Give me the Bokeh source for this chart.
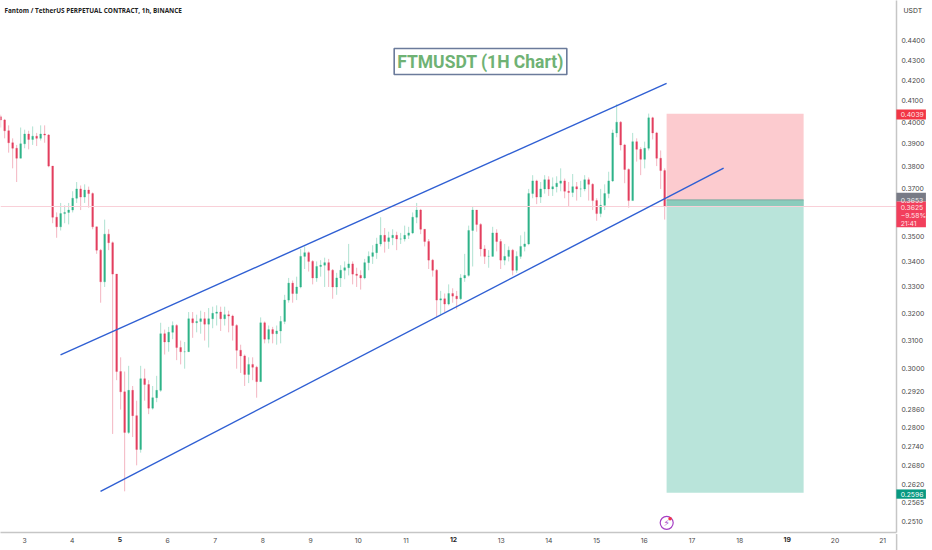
from bokeh.plotting import figure
from bokeh.layouts import column
from bokeh.models import Range1d, FixedTicker, NumeralTickFormatter, Label, ColumnDataSource
from bokeh.core.properties import value
from bokeh.embed import file_html
from bokeh.resources import INLINE

first_day = 2.5
candle_step_days = 0.0839

closes = [.4010,.3960,.3905,.3880,.3835,.3900,.3945,.3920,.3935,.3925,.3945,.3940,.3800,.3580,.3540,.3595,.3600,.3610,.3660,.3700,
.3665,.3695,.3680,.3540,.3445,.3320,.3510,.3475,.3350,.2990,.2920,.2785,.2925,.2840,.2730,.2965,.2945,.2865,.2900,.2925,
.3125,.3095,.3130,.3155,.3075,.3060,.3060,.3180,.3165,.3170,.3180,.3160,.3180,.3200,.3205,.3180,.3195,.3190,.3155,.3065,
.3045,.2980,.3015,.3005,.2955,.3165,.3105,.3140,.3125,.3135,.3170,.3250,.3315,.3275,.3300,.3420,.3435,.3400,.3335,.3380,
.3385,.3395,.3365,.3300,.3335,.3365,.3375,.3390,.3350,.3345,.3335,.3395,.3420,.3435,.3470,.3505,.3480,.3495,.3505,.3490,
.3490,.3505,.3515,.3580,.3610,.3530,.3480,.3405,.3365,.3250,.3255,.3235,.3275,.3265,.3255,.3335,.3345,.3525,.3610,.3550,
.3450,.3420,.3420,.3515,.3480,.3405,.3420,.3445,.3365,.3420,.3460,.3470,.3680,.3735,.3665,.3700,.3740,.3700,.3710,.3725,
.3735,.3690,.3685,.3710,.3700,.3700,.3740,.3720,.3650,.3595,.3630,.3680,.3735,.3950,.4000,.3895,.3785,.3650,.3910,.3875,
.3830,.3880,.4020,.3950,.3835,.3780,.3625]
highs = [.4035,.4015,.3985,.3925,.3895,.3975,.3965,.3960,.3980,.3950,.3985,.3985,.3945,.3800,.3600,.3640,.3630,.3640,.3690,.3730,
.3715,.3720,.3710,.3685,.3540,.3450,.3570,.3530,.3480,.3350,.3040,.2990,.3010,.2940,.2890,.3010,.3000,.2960,.2940,.2975,
.3165,.3140,.3150,.3170,.3160,.3100,.3095,.3205,.3205,.3195,.3210,.3205,.3220,.3225,.3230,.3225,.3225,.3210,.3195,.3160,
.3085,.3050,.3040,.3040,.3010,.3185,.3170,.3155,.3150,.3155,.3190,.3270,.3335,.3325,.3340,.3450,.3460,.3440,.3405,.3400,
.3405,.3415,.3410,.3370,.3355,.3385,.3400,.3470,.3400,.3375,.3365,.3410,.3440,.3465,.3495,.3580,.3535,.3520,.3530,.3520,
.3515,.3545,.3540,.3600,.3640,.3615,.3530,.3490,.3410,.3370,.3285,.3275,.3310,.3295,.3285,.3350,.3430,.3545,.3625,.3610,
.3555,.3465,.3445,.3540,.3530,.3490,.3470,.3460,.3450,.3440,.3505,.3520,.3700,.3760,.3740,.3730,.3760,.3755,.3750,.3755,
.3790,.3745,.3730,.3765,.3730,.3735,.3760,.3750,.3725,.3660,.3700,.3720,.3775,.3965,.4085,.4005,.3900,.3790,.3950,.3925,
.3885,.3910,.4040,.4025,.3955,.3870,.3790]
lows = [.3975,.3925,.3860,.3790,.3730,.3835,.3880,.3875,.3895,.3890,.3915,.3905,.3795,.3555,.3495,.3525,.3555,.3550,.3600,.3640,
.3610,.3640,.3620,.3530,.3430,.3240,.3300,.3445,.2780,.2960,.2860,.2600,.2780,.2770,.2680,.2720,.2890,.2845,.2860,.2885,
.2920,.3050,.3060,.3105,.3030,.3015,.3000,.3060,.3110,.3130,.3125,.3100,.3075,.3145,.3155,.3135,.3155,.3130,.3100,.3000,
.2985,.2940,.2950,.2960,.2900,.2955,.3090,.3090,.3090,.3085,.3090,.3160,.3240,.3240,.3250,.3295,.3370,.3360,.3310,.3320,
.3340,.3300,.3300,.3255,.3270,.3300,.3330,.3345,.3310,.3300,.3290,.3330,.3365,.3390,.3410,.3460,.3435,.3450,.3465,.3445,
.3470,.3480,.3490,.3510,.3555,.3510,.3460,.3370,.3340,.3185,.3195,.3205,.3230,.3240,.3215,.3250,.3320,.3340,.3380,.3520,
.3420,.3390,.3375,.3420,.3440,.3370,.3385,.3400,.3345,.3355,.3410,.3440,.3465,.3660,.3635,.3640,.3680,.3670,.3670,.3685,
.3690,.3660,.3625,.3665,.3650,.3665,.3690,.3650,.3610,.3565,.3580,.3610,.3660,.3730,.3930,.3870,.3725,.3620,.3650,.3820,
.3760,.3790,.3870,.3920,.3800,.3700,.3570]
first_open = .4025

day_ticks = list(range(3, 22))
bold_days = [5, 12, 19]
price_ticks = [.44,.43,.42,.41,.40,.39,.38,.37,.35,.34,.33,.32,.31,.30,.292,.286,.28,.274,.268,.262,.2565,.251]

upper_channel_days = [3.756, 16.468]
upper_channel_prices = [.3049, .4185]
lower_channel_days = [4.595, 17.664]
lower_channel_prices = [.2600, .3791]

position_start_day, position_end_day = 16.468, 19.342
stop_price, entry_price, last_price, target_price = .4039, .3653, .3625, .2596

tag_texts = ["0.4039", "0.3653", "0.3625", "\u22129.58%", "21:41", "0.2596"]
tag_text_prices = [.4039, .3653, .3625, .3589, .3555, .2596]
tag_text_colors = ["#ffe3e6", "#eeeeef", "#ffe3e6", "#ffe3e6", "#ffe3e6", "#ffffff"]
tag_tops = [.4061, .3686, .3649, .2610]
tag_bottoms = [.4014, .3649, .3541, .2582]
tag_colors = ["#f23645", "#787b86", "#f23f5c", "#089981"]

BG = "#ffffff"
UP, DOWN = "#2fb389", "#e33f5f"
FONT = "Inter"
AXIS = "#c6c6c6"
p = figure(width=932, height=550, frame_width=896, frame_height=532, output_backend="svg", toolbar_location=None,
           y_axis_type="log", y_axis_location="right",
           x_range=Range1d(2.497, 21.29), y_range=Range1d(.2478, .4610),
           min_border_left=0, min_border_top=0, min_border_right=36, min_border_bottom=18,
           background_fill_color=BG, border_fill_color=BG, outline_line_color=None)
p.grid.visible = False

p.yaxis.ticker = FixedTicker(ticks=price_ticks)
p.yaxis.formatter = NumeralTickFormatter(format="0.0000")
p.xaxis.ticker = FixedTicker(ticks=day_ticks)
p.xaxis.major_label_overrides = {d: ("" if d in bold_days else str(d)) for d in day_ticks}
for ax in (p.xaxis[0], p.yaxis[0]):
    ax.major_tick_line_color = None
    ax.minor_tick_line_color = None
    ax.major_tick_out = 0
    ax.major_tick_in = 0
    ax.axis_line_color = AXIS
    ax.axis_line_width = 1.5
    ax.major_label_text_color = "#4a4a4a"
    ax.major_label_text_font = FONT
    ax.major_label_text_font_size = "6.8px"
p.yaxis[0].major_label_standoff = 5
p.xaxis[0].major_label_standoff = 5

days = [first_day + i * candle_step_days for i in range(len(closes))]
opens = [first_open] + closes[:-1]
colors = [UP if c >= o else DOWN for o, c in zip(opens, closes)]
src = ColumnDataSource(dict(x=days, o=opens, c=closes, h=highs, l=lows, col=colors,
                            left=[d - .018 for d in days], right=[d + .018 for d in days]))
p.segment("x", "l", "x", "h", source=src, line_color="col", line_alpha=.38, line_width=1)
p.quad(left="left", right="right", top="o", bottom="c", source=src, fill_color="col", line_color="col", line_width=.3)

p.quad(left=[position_start_day], right=[position_end_day], top=[stop_price], bottom=[entry_price],
       fill_color="#fccbcf", line_color=None)
p.quad(left=[position_start_day], right=[position_end_day], top=[entry_price], bottom=[target_price],
       fill_color="#b9e4da", line_color=None)
p.quad(left=[position_start_day], right=[position_end_day], top=[entry_price], bottom=[last_price],
       fill_color="#8accbc", line_color=None)
p.segment([position_start_day], [entry_price], [position_end_day], [entry_price], line_color="#7aa8a0", line_width=1)
p.segment([2.497], [last_price], [21.29], [last_price], line_color="#f9d0d8", line_width=1)

p.line(upper_channel_days, upper_channel_prices, line_color="#2f5fd3", line_width=1.4)
p.line(lower_channel_days, lower_channel_prices, line_color="#2f5fd3", line_width=1.4)

p.scatter([16.47], [.2506], marker="circle", size=13, fill_color=BG, line_color="#a63fc4", line_width=1.2)
p.text([16.47], [.2506], text=["\u26a1"], text_align="center", text_baseline="middle", text_color="#a63fc4",
       text_font=value("DejaVu Sans"), text_font_size="9px")
p.scatter([16.54], [.2518], marker="circle", size=3.5, fill_color="#f23645", line_color=None)

p.add_layout(Label(x=4, y=522, x_units="screen", y_units="screen", text="Fantom / TetherUS PERPETUAL CONTRACT, 1h, BINANCE",
                   text_color="#222222", text_font="Open Sans", text_font_style="bold", text_font_size="6.4px", text_baseline="middle"))
p.add_layout(Label(x=480, y=471, x_units="screen", y_units="screen", text="FTMUSDT (1H Chart)", text_color="#6fb274",
                   text_font="Roboto", text_font_style="bold", text_font_size="17.5px", text_align="center", text_baseline="middle",
                   background_fill_color=BG, background_fill_alpha=1, border_line_color="#6b7b9b", border_line_width=1.6, padding=3))

# transparent layer over the whole page, same scales: holds what lies beyond the main plot area
q = figure(width=932, height=550, frame_width=932, frame_height=550, output_backend="svg", toolbar_location=None,
           y_axis_type="log", x_range=Range1d(2.497, 22.048), y_range=Range1d(.2431, .4610),
           min_border=0, margin=(-550, 0, 0, 0), outline_line_color=None,
           background_fill_alpha=0, border_fill_alpha=0, x_axis_location=None, y_axis_location=None)
q.grid.visible = False
q.segment([21.295], [.2478], [21.295], [.2431], line_color=AXIS, line_width=1.5)
q.quad(left=[21.29] * 4, right=[21.91] * 4, top=tag_tops, bottom=tag_bottoms, fill_color=tag_colors, line_color=None)
q.text([21.38] * 6, tag_text_prices, text=tag_texts, text_color=tag_text_colors, text_baseline="middle",
       text_font=value(FONT), text_font_size="6.8px")
q.text([21.44], [.4556], text=["USDT"], text_color="#333333", text_baseline="middle",
       text_font=value(FONT), text_font_size="6.8px")
q.text(bold_days, [.2461] * 3, text=[str(d) for d in bold_days], text_color="#2a2a2a", text_align="center",
       text_baseline="middle", text_font=value(FONT), text_font_style="bold", text_font_size="6.8px")

page = column(p, q, spacing=0)
open("out.html", "w").write(file_html(page, INLINE))
